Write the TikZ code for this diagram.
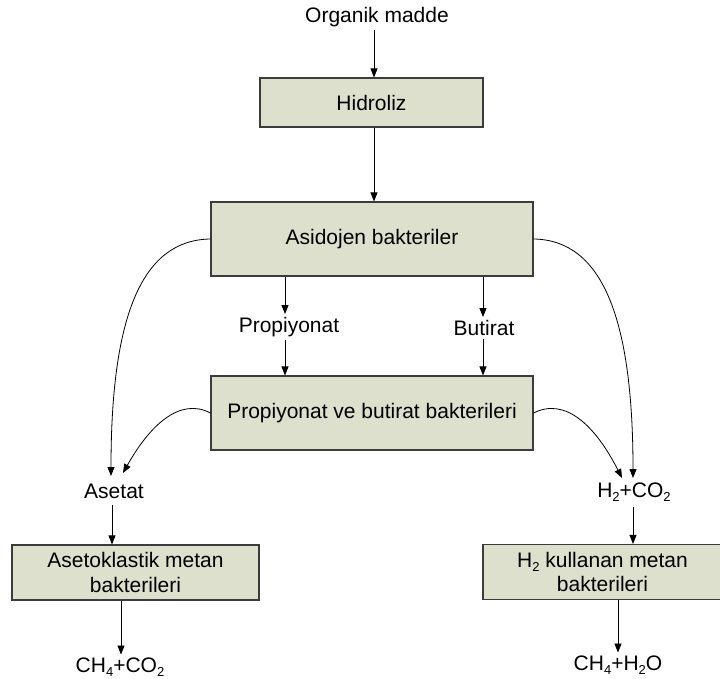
\documentclass[tikz,border=0pt]{standalone}
\usepackage{fontspec}
\setmainfont{Liberation Sans}
\usetikzlibrary{arrows.meta}
\definecolor{boxfill}{RGB}{221,224,204}
\definecolor{boxline}{RGB}{60,60,60}
\newcommand{\chsub}[1]{\raisebox{-0.35ex}{\fontsize{13}{13}\selectfont #1}}
\begin{document}
\begin{tikzpicture}[x=1pt,y=-1pt,
  every node/.style={font=\fontsize{21}{24}\selectfont},
  procbox/.style={draw=boxline, line width=1.1pt, fill=boxfill, align=center, inner sep=0pt},
  lab/.style={inner sep=3pt},
  arr/.style={line width=0.8pt, -{Triangle[length=9pt,width=7pt]}}]
\useasboundingbox (0,0) rectangle (720,679);

\node[lab] (org) at (377,17) {Organik madde};
\node[procbox, minimum width=223pt, minimum height=49pt] (hid) at (371.5,102.5) {Hidroliz};
\node[procbox, minimum width=322pt, minimum height=74pt] (asid) at (372,239) {Asidojen bakteriler};
\node[lab] (prop) at (289,327) {Propiyonat};
\node[lab] (but) at (484,328) {Butirat};
\node[procbox, minimum width=322pt, minimum height=74pt] (pb) at (372,413) {Propiyonat ve butirat bakterileri};
\node[lab, inner sep=6pt] (asetat) at (114,491) {Asetat};
\node[lab, inner sep=6pt] (hco) at (634,492) {H\chsub{2}+CO\chsub{2}};
\node[procbox, minimum width=247pt, minimum height=55pt, font=\fontsize{21}{24.5}\selectfont] (ak) at (135.5,572.5) {Asetoklastik metan\\bakterileri};
\node[procbox, minimum width=239pt, minimum height=55pt, font=\fontsize{21}{24.5}\selectfont] (hk) at (602.5,572) {H\chsub{2} kullanan metan\\bakterileri};
\node[lab] (cl) at (120,667) {CH\chsub{4}+CO\chsub{2}};
\node[lab] (cr) at (618,665) {CH\chsub{4}+H\chsub{2}O};

\coordinate (xo) at (374,0);
\coordinate (xp) at (285,0);
\coordinate (xb) at (483,0);
\coordinate (xl) at (112,0);
\coordinate (xl2) at (121,0);
\coordinate (xr) at (633,0);
\coordinate (xr2) at (618,0);
\coordinate (a1) at (111,476);
\coordinate (a2) at (123,473);
\coordinate (h1) at (633,478);
\coordinate (h2) at (622,478);

\draw[arr] (org.south -| xo) -- (hid.north -| xo);
\draw[arr] (hid.south -| xo) -- (asid.north -| xo);
\draw[arr] (asid.south -| xp) -- (prop.north -| xp);
\draw[arr] (prop.south -| xp) -- (pb.north -| xp);
\draw[arr] (asid.south -| xb) -- (but.north -| xb);
\draw[arr] (but.south -| xb) -- (pb.north -| xb);

\draw[arr] (asid.west) .. controls (140,240) and (111,320) .. (a1);
\draw[arr] (pb.west) .. controls (180,397) and (150,425) .. (a2);
\draw[arr] (asid.east) .. controls (603,240) and (633,320) .. (h1);
\draw[arr] (pb.east) .. controls (565,397) and (595,425) .. (h2);

\draw[arr] (asetat.south -| xl) -- (ak.north -| xl);
\draw[arr] (hco.south -| xr) -- (hk.north -| xr);
\draw[arr] (ak.south -| xl2) -- (cl.north -| xl2);
\draw[arr] (hk.south -| xr2) -- (cr.north -| xr2);
\end{tikzpicture}
\end{document}
